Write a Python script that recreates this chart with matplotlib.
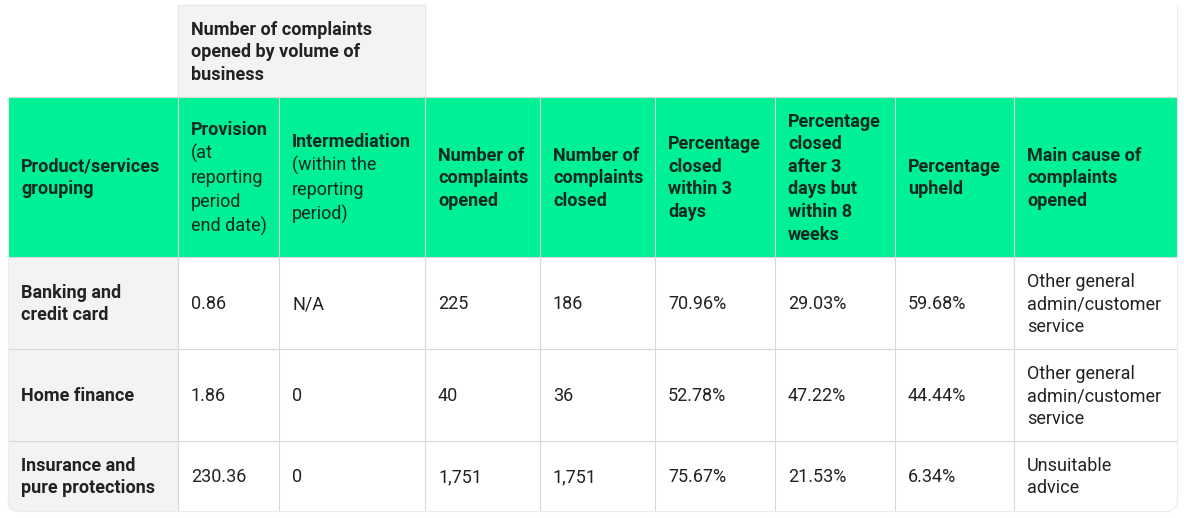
import matplotlib
matplotlib.use("Agg")
import matplotlib.pyplot as plt
from matplotlib.patches import Rectangle, FancyBboxPatch, Arc

# ── Table content ─────────────────────────────────────────────────────────────
super_header = "Number of complaints\nopened by volume of\nbusiness"

# (bold part, regular part) for each column header
headers = [
    ("Product/services\ngrouping", ""),
    ("Provision", "(at\nreporting\nperiod\nend date)"),
    ("Intermediation", "(within the\nreporting\nperiod)"),
    ("Number of\ncomplaints\nopened", ""),
    ("Number of\ncomplaints\nclosed", ""),
    ("Percentage\nclosed\nwithin 3\ndays", ""),
    ("Percentage\nclosed\nafter 3\ndays but\nwithin 8\nweeks", ""),
    ("Percentage\nupheld", ""),
    ("Main cause of\ncomplaints\nopened", ""),
]

groups         = ["Banking and\ncredit card", "Home finance", "Insurance and\npure protections"]
provision      = ["0.86", "1.86", "230.36"]
intermediation = ["N/A", "0", "0"]
opened         = ["225", "40", "1,751"]
closed         = ["186", "36", "1,751"]
pct_3_days     = ["70.96%", "52.78%", "75.67%"]
pct_8_weeks    = ["29.03%", "47.22%", "21.53%"]
pct_upheld     = ["59.68%", "44.44%", "6.34%"]
main_cause     = ["Other general\nadmin/customer\nservice",
                  "Other general\nadmin/customer\nservice",
                  "Unsuitable\nadvice"]

# ── Theme / geometry (pixels) ─────────────────────────────────────────────────
W, H = 1184, 518
GREEN  = "#00f096"
GREY   = "#f3f3f3"
LINE   = "#d8d8d8"
HEAD_T = "#0c2a1f"
BODY_T = "#222222"
FS     = 13.0          # pt
EM     = FS / 0.72     # px
LH     = 22.6          # line height px
PAD    = 13

col_x = [8, 178, 279, 425, 540, 655, 775, 895, 1014, 1177]
row_y = [5, 97, 257, 349, 441, 511]

plt.rcParams["font.family"] = ["Roboto", "DejaVu Sans"]

fig = plt.figure(figsize=(W / 100, H / 100), dpi=100, facecolor="white")
ax = fig.add_axes([0, 0, 1, 1])
ax.set_xlim(0, W); ax.set_ylim(H, 0); ax.axis("off")


def cell_text(x0, y0, y1, lines, color, lh=LH):
    """lines: list of (text, weight); block vertically centred in the cell."""
    n = len(lines)
    cy = (y0 + y1) / 2
    for i, (txt, wt) in enumerate(lines):
        yc = cy + (i - (n - 1) / 2) * lh
        ax.text(x0 + PAD, yc + 0.34 * EM, txt, ha="left", va="baseline",
                fontsize=FS, fontweight=wt, color=color)


# ── Backgrounds ───────────────────────────────────────────────────────────────
ax.add_patch(Rectangle((col_x[1], row_y[0]), col_x[3] - col_x[1], row_y[1] - row_y[0],
                       facecolor=GREY, edgecolor="none"))
ax.add_patch(Rectangle((col_x[0], row_y[1]), col_x[-1] - col_x[0], row_y[2] - row_y[1],
                       facecolor=GREEN, edgecolor="none"))
# first column body cells, rounded bottom-left corner
ax.add_patch(FancyBboxPatch((col_x[0], row_y[2]), col_x[1] - col_x[0], row_y[-1] - row_y[2],
                            boxstyle="round,pad=0,rounding_size=9",
                            facecolor=GREY, edgecolor="none"))
ax.add_patch(Rectangle((col_x[0], row_y[2]), col_x[1] - col_x[0], 40,
                       facecolor=GREY, edgecolor="none"))
ax.add_patch(Rectangle((col_x[0] + 40, row_y[2]), col_x[1] - col_x[0] - 40, row_y[-1] - row_y[2],
                       facecolor=GREY, edgecolor="none"))

# ── Grid lines ────────────────────────────────────────────────────────────────
lw = 0.8
ax.plot([col_x[1], col_x[3]], [row_y[0], row_y[0]], color="#e6e6e6", lw=lw)
for x in (col_x[1], col_x[3]):
    ax.plot([x, x], [row_y[0], row_y[1]], color="#e6e6e6", lw=lw)
for y in row_y[1:-1]:
    ax.plot([col_x[0], col_x[-1]], [y, y], color=LINE, lw=lw)
for x in col_x[1:-1]:
    ax.plot([x, x], [row_y[1], row_y[-1]], color=LINE, lw=lw)
# faint outer edge with rounded bottom corners
R = 9
OUT = "#ececec"
ax.plot([col_x[0], col_x[0]], [row_y[1], row_y[-1] - R], color=OUT, lw=lw)
ax.plot([col_x[-1], col_x[-1]], [row_y[0], row_y[-1] - R], color=OUT, lw=lw)
ax.plot([col_x[0] + R, col_x[-1] - R], [row_y[-1], row_y[-1]], color=OUT, lw=lw)
ax.add_patch(Arc((col_x[0] + R, row_y[-1] - R), 2 * R, 2 * R, theta1=90, theta2=180,
                 color=OUT, lw=lw))
ax.add_patch(Arc((col_x[-1] - R, row_y[-1] - R), 2 * R, 2 * R, theta1=0, theta2=90,
                 color=OUT, lw=lw))

# ── Header text ───────────────────────────────────────────────────────────────
cell_text(col_x[1], row_y[0], row_y[1],
          [(t, "bold") for t in super_header.split("\n")], BODY_T)

for j, (bold, reg) in enumerate(headers):
    lines = [(t, "bold") for t in bold.split("\n")]
    if reg:
        lines += [(t, "normal") for t in reg.split("\n")]
    lh = 24.3 if reg else LH
    cell_text(col_x[j], row_y[1], row_y[2], lines, HEAD_T, lh)

# ── Body text ─────────────────────────────────────────────────────────────────
columns = [groups, provision, intermediation, opened, closed,
           pct_3_days, pct_8_weeks, pct_upheld, main_cause]
for j, col in enumerate(columns):
    wt = "bold" if j == 0 else "normal"
    for i, val in enumerate(col):
        cell_text(col_x[j], row_y[i + 2], row_y[i + 3],
                  [(t, wt) for t in val.split("\n")], BODY_T)

fig.savefig("out.png", dpi=100, facecolor="white")
